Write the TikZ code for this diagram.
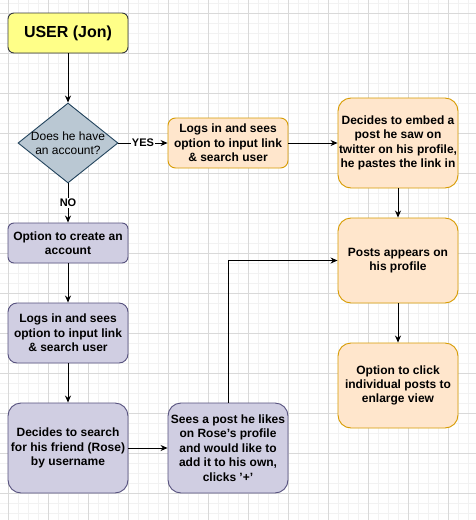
\documentclass[tikz,border=0pt]{standalone}
\usepackage{fontspec}
\setmainfont{Liberation Sans}
\usetikzlibrary{shapes.geometric,arrows.meta}
\definecolor{userfill}{HTML}{FFFF88}
\definecolor{userline}{HTML}{36393D}
\definecolor{askfill}{HTML}{BAC8D3}
\definecolor{askline}{HTML}{23445D}
\definecolor{orfill}{HTML}{FFE6CC}
\definecolor{orline}{HTML}{D79B00}
\definecolor{pufill}{HTML}{D0CEE2}
\definecolor{puline}{HTML}{56517E}
\begin{document}
\begin{tikzpicture}[x=1pt,y=-1pt,
  box/.style={draw,line width=0.9pt,minimum width=120pt,inner xsep=1pt,align=center,
    font=\bfseries\fontsize{12}{14.4}\selectfont},
  orbox/.style={box,fill=orfill,draw=orline},
  pubox/.style={box,fill=pufill,draw=puline},
  arr/.style={-{Stealth[length=7pt,width=6pt]},line width=0.9pt},
  lbl/.style={fill=white,inner sep=1pt,font=\bfseries\fontsize{11}{13}\selectfont}]
\useasboundingbox (0,0) rectangle (476,520);
\fill[white] (0,0) rectangle (476,520);

% grid
\foreach \x in {8,18,...,468} \draw[black!5,line width=0.8pt] (\x,0) -- (\x,520);
\foreach \y in {3,13,...,513} \draw[black!5,line width=0.8pt] (0,\y) -- (476,\y);
\foreach \x in {8,48,...,448} \draw[black!15,line width=0.8pt] (\x,0) -- (\x,520);
\foreach \y in {13,53,...,493} \draw[black!15,line width=0.8pt] (0,\y) -- (476,\y);

\node [box,fill=userfill,draw=userline,minimum height=40pt,rounded corners=6pt,
  font=\bfseries\fontsize{16}{19}\selectfont] (user) at (68,33) {USER (Jon)};

\node [diamond,draw=askline,fill=askfill,line width=0.9pt,minimum width=100pt,minimum height=80pt,inner sep=0pt,
  label={[align=center,font=\fontsize{12}{14.4}\selectfont]center:Does he have\\an account?}] (ask) at (68,143) {};

\node [orbox,minimum height=50pt,rounded corners=7.5pt] (logsA) at (228,143) {Logs in and sees\\option to input link\\\& search user};
\node [orbox,minimum height=90pt,rounded corners=13pt] (embed) at (398,143) {Decides to embed a\\post he saw on\\twitter on his profile,\\he pastes the link in};
\node [orbox,minimum height=85pt,rounded corners=13pt] (posts) at (398,260.5) {Posts appears on\\his profile};
\node [orbox,minimum height=85pt,rounded corners=13pt] (enlarge) at (398,385.5) {Option to click\\individual posts to\\enlarge view};

\node [pubox,minimum height=40pt,rounded corners=6pt] (create) at (68,243) {Option to create an\\account};
\node [pubox,minimum height=60pt,rounded corners=9pt] (logsB) at (68,333) {Logs in and sees\\option to input link\\\& search user};
\node [pubox,minimum height=90pt,rounded corners=13pt] (search) at (68,448) {Decides to search\\for his friend (Rose)\\by username};
\node [pubox,minimum height=90pt,rounded corners=13pt] (sees) at (228,448) {Sees a post he likes\\on Rose's profile\\and would like to\\add it to his own,\\clicks '+'};

\draw[arr] (user) -- (ask);
\draw[arr] (ask.east) -- node[lbl] {YES} (logsA.west);
\draw[arr] (logsA) -- (embed);
\draw[arr] (embed) -- (posts);
\draw[arr] (posts) -- (enlarge);
\draw[arr] (ask.south) -- node[lbl] {NO} (create.north);
\draw[arr] (create) -- (logsB);
\draw[arr] (logsB) -- (search);
\draw[arr] (search) -- (sees);
\draw[arr] (sees.north) |- (posts.west);
\end{tikzpicture}
\end{document}
